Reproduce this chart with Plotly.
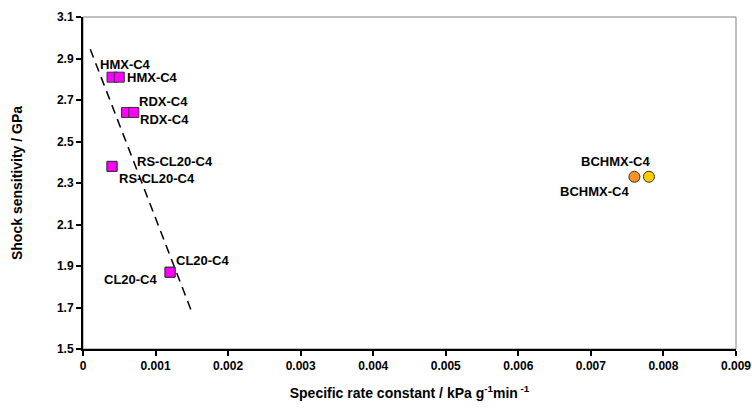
import plotly.graph_objects as go

# ---- data ----
compounds = ["HMX-C4", "RDX-C4", "RS-CL20-C4", "CL20-C4", "BCHMX-C4"]
rate_a = [0.0004, 0.0006, 0.0004, 0.0012, 0.0076]
shock_a = [2.81, 2.64, 2.38, 1.87, 2.33]
rate_b = [0.0005, 0.0007, 0.0004, 0.0012, 0.0078]
shock_b = [2.81, 2.64, 2.38, 1.87, 2.33]
trend_x = [0.0001, 0.0015]
trend_y = [2.945, 1.678]

# ---- styles ----
sym = ["square", "square", "square", "square", "circle"]
col_a = ["#FF00FF", "#FF00FF", "#FF00FF", "#FF00FF", "#F7931E"]
col_b = ["#FF00FF", "#FF00FF", "#FF00FF", "#FF00FF", "#FFCC00"]
size = [10, 10, 10, 10, 11]
# label offsets (px) for series a and b: (xanchor, xshift, yshift)
lab_a = [("center", 13, 13), ("left", 10, 11), ("left", 23, 5), ("right", -10, -7), ("right", -3, -15)]
lab_b = [("left", 6, 0), ("left", 4, -7), ("left", 5, -12), ("left", 4, 12), ("right", 3, 15)]

FONT = "Liberation Sans, Arial, sans-serif"

fig = go.Figure()
fig.add_trace(go.Scatter(x=trend_x, y=trend_y, mode="lines",
                         line=dict(color="black", width=1.5, dash="9px,6px"),
                         hoverinfo="skip", showlegend=False))
for xs, ys, cols in [(rate_a, shock_a, col_a), (rate_b, shock_b, col_b)]:
    fig.add_trace(go.Scatter(x=xs, y=ys, mode="markers", showlegend=False,
                             marker=dict(symbol=sym, color=cols, size=size, opacity=1,
                                         line=dict(color="#333333", width=1))))

for xs, ys, labs in [(rate_a, shock_a, lab_a), (rate_b, shock_b, lab_b)]:
    for name, x, y, (anc, dx, dy) in zip(compounds, xs, ys, labs):
        fig.add_annotation(x=x, y=y, text="<b>" + name + "</b>", showarrow=False, xanchor=anc,
                           yanchor="middle", xshift=dx, yshift=dy,
                           font=dict(family=FONT, size=13, color="black"))

fig.add_shape(type="rect", xref="paper", yref="paper", x0=0, y0=0, x1=1, y1=1,
              line=dict(color="#808080", width=1), layer="below")

fig.update_layout(
    width=752, height=411,
    margin=dict(l=83, r=16, t=17, b=62, autoexpand=False),
    plot_bgcolor="white", paper_bgcolor="white",
    font=dict(family=FONT, size=12, color="black"),
    xaxis=dict(range=[0, 0.009], dtick=0.001, tick0=0, tickformat="~g", automargin=False,
               ticklabeloverflow="allow",
               showgrid=False, zeroline=False, showline=True, linecolor="black",
               linewidth=2, ticks="outside", ticklen=5, tickwidth=2, tickcolor="black",
               tickprefix="<b>", ticksuffix="</b>",
               tickfont=dict(family=FONT, size=12),
               title=dict(text="<b>Specific rate constant / kPa g<sup>-1</sup>min<sup> -1</sup></b>",
                          font=dict(family=FONT, size=14), standoff=16)),
    yaxis=dict(range=[1.5, 3.1], dtick=0.2, tick0=1.5, tickformat=".1f", automargin=False,
               showgrid=False, zeroline=False, showline=True, linecolor="black",
               linewidth=2, ticks="outside", ticklen=5, tickwidth=2, tickcolor="black",
               tickprefix="<b>", ticksuffix="</b>",
               tickfont=dict(family=FONT, size=12),
               title=dict(text="<b>Shock sensitivity / GPa</b>",
                          font=dict(family=FONT, size=14), standoff=31)),
)

fig.write_html("out.html", config={"displayModeBar": False},
               post_script="document.body.style.margin='0px';")
